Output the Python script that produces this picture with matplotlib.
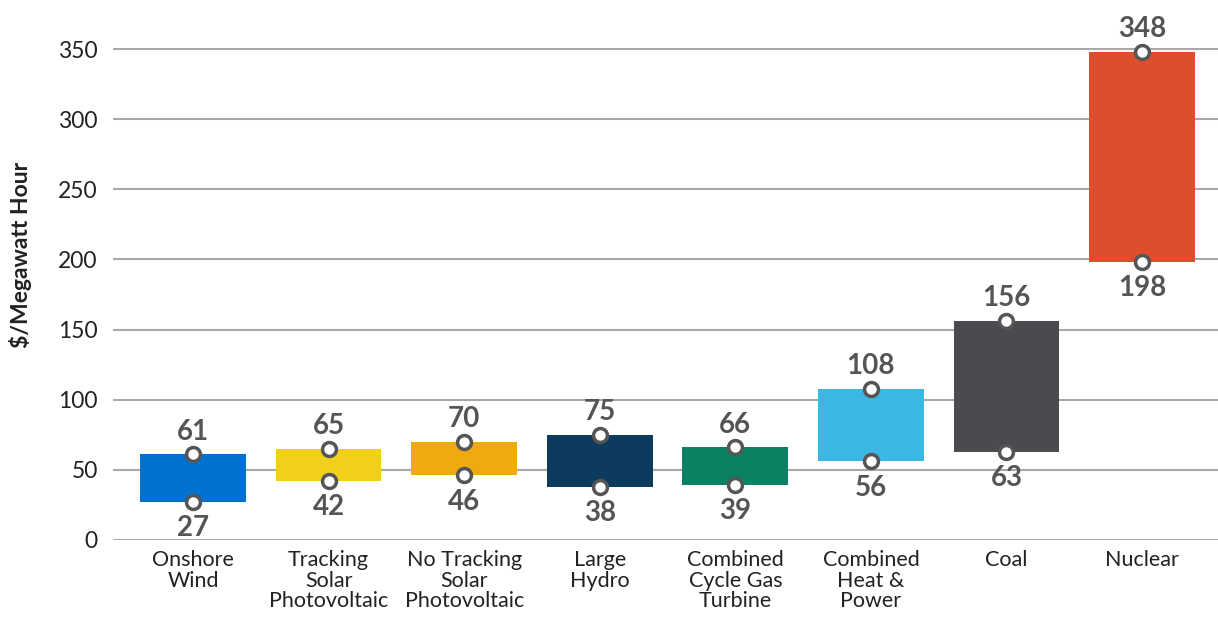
import matplotlib
matplotlib.use("Agg")
import matplotlib.pyplot as plt

categories = ["Onshore\nWind", "Tracking\nSolar\nPhotovoltaic", "No Tracking\nSolar\nPhotovoltaic",
              "Large\nHydro", "Combined\nCycle Gas\nTurbine", "Combined\nHeat &\nPower", "Coal", "Nuclear"]
low = [27, 42, 46, 38, 39, 56, 63, 198]
high = [61, 65, 70, 75, 66, 108, 156, 348]
colors = ["#0071CE", "#F1D01D", "#EEAA0E", "#0C3B5E", "#0A8163", "#3CB7E3", "#4A4A4F", "#DE4D2C"]
yticks = [0, 50, 100, 150, 200, 250, 300, 350]

fig = plt.figure(figsize=(12.18, 6.19), dpi=100)
ax = fig.add_axes([113/1218, (619-540)/619, 1 - 113/1218, 533/619])
x = list(range(len(categories)))
ax.set_xlim(-0.59, 7.56)
ax.set_ylim(0, 380)

for i in x:
    ax.bar(i, high[i] - low[i], bottom=low[i], width=0.78, color=colors[i], zorder=3)
ax.scatter(x, high, s=100, facecolor="white", edgecolor="#555555", linewidth=2.5, zorder=4)
ax.scatter(x, low, s=100, facecolor="white", edgecolor="#555555", linewidth=2.5, zorder=4)

for i in x:
    ax.annotate(str(high[i]), (i, high[i]), xytext=(0, 7), textcoords="offset points",
                ha="center", va="bottom", fontsize=20, fontweight="bold", color="#555555",
                family="Lato")
    ax.annotate(str(low[i]), (i, low[i]), xytext=(0, -9.5), textcoords="offset points",
                ha="center", va="top", fontsize=20, fontweight="bold", color="#555555",
                family="Lato")

ax.set_yticks(yticks)
ax.set_yticklabels([str(v) for v in yticks], fontsize=16.5, family="Lato", color="#222222")
ax.set_xticks(x)
ax.set_xticklabels(categories, fontsize=15.5, family="Lato", color="#222222", linespacing=1.05)
ax.tick_params(axis="both", length=0)
ax.tick_params(axis="y", pad=11)
ax.tick_params(axis="x", pad=7)
ax.grid(axis="y", color="#A8A8A8", linewidth=1.5, zorder=0)
ax.set_axisbelow(True)
for s in ax.spines.values():
    s.set_visible(False)
fig.text(21/1218, 1 - 255/619, "$/Megawatt Hour", rotation=90, ha="center", va="center",
         fontsize=16.5, fontweight="bold", family="Lato", color="#222222")

fig.savefig("out.png", dpi=100)
